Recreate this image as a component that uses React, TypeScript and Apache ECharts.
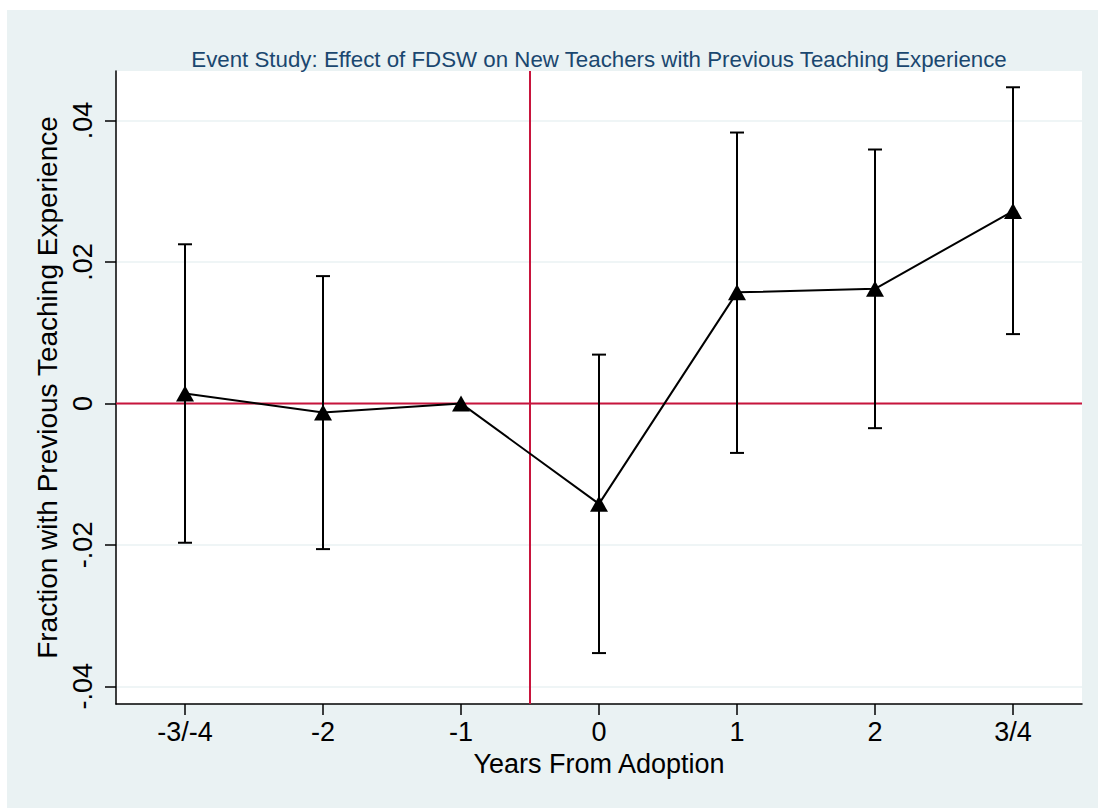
import React, { useEffect, useRef } from "react";
import * as echarts from "echarts";

// Event-study periods relative to adoption
const periods = ["-3/-4", "-2", "-1", "0", "1", "2", "3/4"];
// Point estimates (period -1 is the omitted reference)
const estimates = [0.0014, -0.0013, 0, -0.0142, 0.0157, 0.0162, 0.0272];
// 95% confidence bounds
const ciLower = [-0.0197, -0.0206, null, -0.0353, -0.007, -0.0035, 0.0098];
const ciUpper = [0.0225, 0.018, null, 0.0069, 0.0383, 0.0359, 0.0447];
// Y-axis ticks
const yTicks = [-0.04, -0.02, 0, 0.02, 0.04];
const yMin = -0.0425;
const yMax = 0.047;
// Reference lines: between periods -1 and 0, and at zero effect
const adoptionDivider = 2.5;
const zeroLine = 0;

const FONT = "'Liberation Sans', Arial, Helvetica, sans-serif";

const fmtY = (v: number) => {
  if (Math.abs(v) < 1e-9) return "0";
  const s = Math.abs(v).toFixed(2).replace(/^0/, "");
  return (v < 0 ? "-" : "") + s;
};

export default function App() {
  const ref = useRef<HTMLDivElement>(null);

  useEffect(() => {
    if (!ref.current) return;
    const chart = echarts.init(ref.current, null, { renderer: "svg" });

    const ciData = periods
      .map((_, i) => [i, ciLower[i], ciUpper[i]])
      .filter((d) => d[1] !== null && d[2] !== null);

    chart.setOption({
      animation: false,
      backgroundColor: "#EAF2F3",
      title: {
        text: "Event Study: Effect of FDSW on New Teachers with Previous Teaching Experience",
        left: 587,
        top: 33,
        textAlign: "center",
        textStyle: {
          color: "#1A476F",
          fontFamily: FONT,
          fontSize: 22.3,
          fontWeight: "normal",
        },
      },
      grid: {
        left: 109,
        top: 61,
        width: 966,
        height: 633,
        show: true,
        backgroundColor: "#FFFFFF",
        borderWidth: 0,
      },
      xAxis: [
        {
          type: "category",
          data: periods,
          boundaryGap: true,
          name: "Years From Adoption",
          nameLocation: "middle",
          nameGap: 46,
          nameTextStyle: { color: "#000", fontFamily: FONT, fontSize: 27 },
          axisLine: { show: true, onZero: false, lineStyle: { color: "#000", width: 1.5 } },
          axisTick: {
            show: true,
            alignWithLabel: true,
            length: 11,
            lineStyle: { color: "#000", width: 1.5 },
          },
          axisLabel: {
            color: "#000",
            fontFamily: FONT,
            fontSize: 27,
            margin: 14,
          },
          splitLine: { show: false },
        },
        {
          type: "value",
          min: -0.5,
          max: 6.5,
          show: false,
          axisLine: { onZero: false },
        },
      ],
      yAxis: {
        type: "value",
        min: yMin,
        max: yMax,
        name: "Fraction with Previous Teaching Experience",
        nameLocation: "middle",
        nameRotate: 90,
        nameGap: 45,
        nameTextStyle: { color: "#000", fontFamily: FONT, fontSize: 28 },
        axisLine: { show: true, onZero: false, lineStyle: { color: "#000", width: 1.5 } },
        axisTick: {
          show: true,
          length: 11,
          customValues: yTicks,
          lineStyle: { color: "#000", width: 1.5 },
        },
        axisLabel: {
          customValues: yTicks,
          rotate: 90,
          color: "#000",
          fontFamily: FONT,
          fontSize: 27,
          margin: 20,
          formatter: (v: number) => fmtY(v),
        },
        splitLine: {
          show: true,
          lineStyle: { color: "#EAF2F3", width: 1.5 },
        },
      },
      series: [
        {
          name: "divider",
          type: "line",
          xAxisIndex: 1,
          data: [
            [adoptionDivider, yMin],
            [adoptionDivider, yMax],
          ],
          symbol: "none",
          lineStyle: { color: "#C8143C", width: 2 },
          z: 1,
          silent: true,
        },
        {
          name: "zero",
          type: "line",
          xAxisIndex: 1,
          data: [
            [-0.5, zeroLine],
            [6.5, zeroLine],
          ],
          symbol: "none",
          lineStyle: { color: "#C8143C", width: 2 },
          z: 1,
          silent: true,
        },
        {
          name: "ci",
          type: "custom",
          xAxisIndex: 0,
          data: ciData,
          z: 3,
          renderItem: (params: any, api: any) => {
            const x = api.value(0);
            const lo = api.coord([x, api.value(1)]);
            const hi = api.coord([x, api.value(2)]);
            const half = 7;
            const style = { stroke: "#000", lineWidth: 2 };
            return {
              type: "group",
              children: [
                { type: "line", shape: { x1: lo[0], y1: lo[1], x2: hi[0], y2: hi[1] }, style },
                { type: "line", shape: { x1: hi[0] - half, y1: hi[1], x2: hi[0] + half, y2: hi[1] }, style },
                { type: "line", shape: { x1: lo[0] - half, y1: lo[1], x2: lo[0] + half, y2: lo[1] }, style },
              ],
            };
          },
        },
        {
          name: "estimate",
          type: "line",
          xAxisIndex: 0,
          data: estimates,
          symbol: "triangle",
          symbolSize: [18, 16],
          itemStyle: { color: "#000" },
          lineStyle: { color: "#000", width: 2 },
          z: 4,
        },
      ],
    });

    return () => chart.dispose();
  }, []);

  return (
    <div
      ref={ref}
      style={{ position: "absolute", left: 7, top: 10, width: 1091, height: 798 }}
    />
  );
}
